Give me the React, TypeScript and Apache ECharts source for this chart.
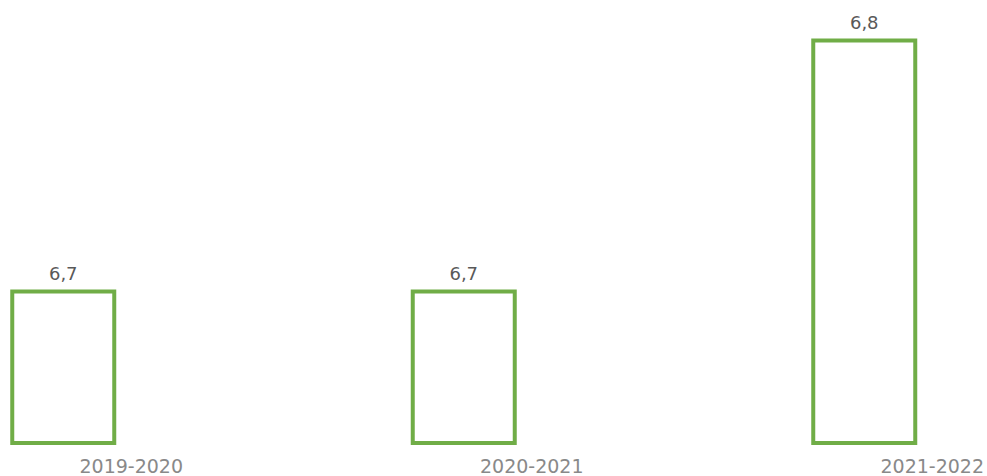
import React, { useEffect, useRef } from "react";
import * as echarts from "echarts";

const categories = ["2019-2020", "2020-2021", "2021-2022"];
const values = [6.7, 6.7, 6.8];
const yMin = 6.6388;
const yMax = 6.8153;

export default function App() {
  const ref = useRef<HTMLDivElement>(null);
  useEffect(() => {
    if (!ref.current) return;
    const chart = echarts.init(ref.current, undefined, { renderer: "svg" });
    chart.setOption({
      animation: false,
      backgroundColor: "#ffffff",
      grid: { left: -137, width: 1201.5, top: 0, bottom: 33, containLabel: false, outerBoundsMode: "none" },
      xAxis: {
        type: "category",
        data: categories,
        axisLine: { show: false },
        axisTick: { show: false },
        axisLabel: {
          interval: 0,
          margin: 13,
          color: "#898989",
          fontFamily: "DejaVu Sans",
          fontSize: 19,
          padding: [0, 0, 0, 136],
        },
      },
      yAxis: {
        type: "value",
        min: yMin,
        max: yMax,
        show: false,
        splitLine: { show: false },
      },
      series: [
        {
          type: "bar",
          data: values,
          barWidth: 106,
          itemStyle: { color: "#ffffff", borderColor: "#70AD47", borderWidth: 4 },
          label: {
            show: true,
            position: "top",
            distance: 7,
            color: "#595959",
            fontFamily: "DejaVu Sans",
            fontSize: 18,
            formatter: (p: any) => String(p.value).replace(".", ","),
          },
        },
      ],
    });
    return () => chart.dispose();
  }, []);
  return <div ref={ref} style={{ width: 987, height: 476, position: "absolute", left: 0, top: 0 }} />;
}
